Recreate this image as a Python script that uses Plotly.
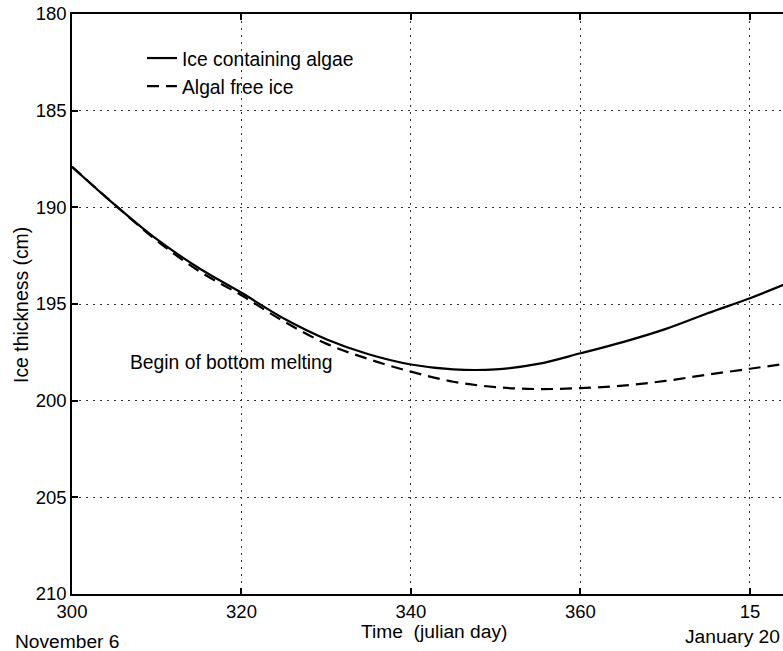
import plotly.graph_objects as go

# ---- data ----
days = [300, 305, 310, 315, 320, 325, 330, 335, 340, 345, 350, 355, 360, 365, 370, 375, 380, 384]
ice_algae = [187.9, 189.85, 191.65, 193.15, 194.42, 195.75, 196.82, 197.6, 198.13, 198.38,
             198.38, 198.1, 197.55, 196.97, 196.3, 195.48, 194.7, 194.0]
ice_free = [187.9, 189.85, 191.72, 193.3, 194.55, 195.9, 197.05, 197.85, 198.5, 199.02,
            199.3, 199.4, 199.35, 199.22, 198.98, 198.65, 198.35, 198.1]

x_tickvals = [300, 320, 340, 360, 380]
x_ticktext = ["300", "320", "340", "360", "15"]
y_tickvals = [180, 185, 190, 195, 200, 205, 210]

FONT = "Liberation Sans, Arial, Helvetica, sans-serif"
W, H = 783, 651
L, R, T, B = 72, 0, 14, 57
PW, PH = W - L - R, H - T - B


def px_x(p):
    return (p - L) / PW


def px_y(p):
    return 1 - (p - T) / PH


fig = go.Figure()
fig.add_trace(go.Scatter(x=days, y=ice_algae, mode="lines", name="Ice containing algae",
                         line=dict(color="black", width=2.2, shape="spline", smoothing=1.0)))
fig.add_trace(go.Scatter(x=days, y=ice_free, mode="lines", name="Algal free ice",
                         line=dict(color="black", width=2.2, dash="12px,7px", shape="spline", smoothing=1.0)))

axis_common = dict(
    showline=True, linecolor="black", linewidth=1.6,
    ticks="inside", ticklen=6, tickcolor="black", tickwidth=1.5,
    showgrid=True, gridcolor="#333", gridwidth=1, griddash="1.5px,5.5px",
    zeroline=False,
    tickfont=dict(family=FONT, size=18.5, color="black"),
)

fig.update_xaxes(range=[300, 383.9], tickvals=x_tickvals, ticktext=x_ticktext,
                 mirror="ticks", **axis_common)
fig.update_yaxes(range=[210, 180], tickvals=y_tickvals, mirror=False, **axis_common)

fig.update_layout(
    width=W, height=H,
    margin=dict(l=L, r=R, t=T, b=B),
    paper_bgcolor="white", plot_bgcolor="white",
    font=dict(family=FONT, size=19, color="black"),
    showlegend=True,
    legend=dict(x=px_x(142), y=px_y(39), xanchor="left", yanchor="top",
                bgcolor="rgba(0,0,0,0)", borderwidth=0,
                font=dict(family=FONT, size=19.3, color="black"),
                tracegroupgap=0, itemwidth=30),
    annotations=[
        dict(text="Begin of bottom melting", x=306.6, y=198.05, xref="x", yref="y",
             xanchor="left", yanchor="middle", showarrow=False,
             font=dict(family=FONT, size=19.3, color="black")),
        dict(text="Ice thickness (cm)", x=px_x(21), y=px_y(305), xref="paper", yref="paper",
             textangle=-90, xanchor="center", yanchor="middle", showarrow=False,
             font=dict(family=FONT, size=19.4, color="black")),
        dict(text="Time\u00a0\u00a0(julian day)", x=px_x(434), y=px_y(631),
             xref="paper", yref="paper", xanchor="center", yanchor="middle", showarrow=False,
             font=dict(family=FONT, size=19.2, color="black")),
        dict(text="November 6", x=px_x(13), y=px_y(641),
             xref="paper", yref="paper", xanchor="left", yanchor="middle", showarrow=False,
             font=dict(family=FONT, size=19.2, color="black")),
        dict(text="January 20", x=px_x(683), y=px_y(636),
             xref="paper", yref="paper", xanchor="left", yanchor="middle", showarrow=False,
             font=dict(family=FONT, size=19.2, color="black")),
    ],
)

fig.write_html("out.html",
               config={"displayModeBar": False},
               post_script="document.body.style.margin='0px';document.body.style.overflow='hidden';")
